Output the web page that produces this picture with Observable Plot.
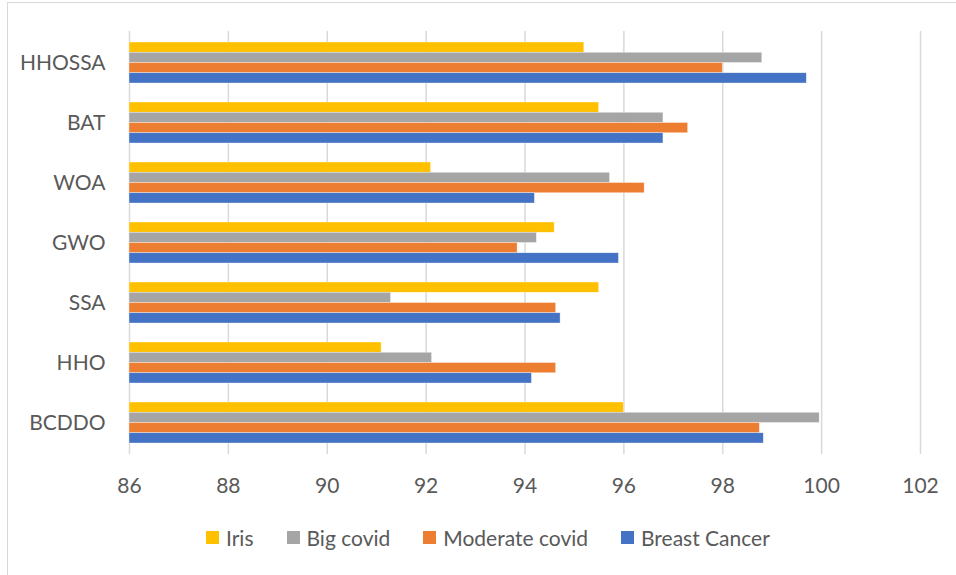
<!DOCTYPE html>
<html>
<head>
<meta charset="utf-8">
<script src="https://cdn.jsdelivr.net/npm/d3@7"></script>
<script src="https://cdn.jsdelivr.net/npm/@observablehq/plot@0.6"></script>
<style>
  html, body { margin: 0; padding: 0; background: #fff; overflow: hidden; }
  #wrap { position: relative; width: 956px; height: 575px; font-family: Lato, "Noto Sans", sans-serif; }
  #frame { position: absolute; left: 7px; top: 2px; width: 960px; height: 580px;
           border-left: 1.5px solid #d9d9d9; border-top: 1.5px solid #d9d9d9; box-sizing: border-box; }
  #chart { position: absolute; left: 0; top: 0; }
  #legend { position: absolute; left: 206px; top: 525px; display: flex; align-items: center;
            font-size: 21px; color: #595959; white-space: nowrap; }
  .item { display: flex; align-items: center; margin-right: 33px; }
  .sw { width: 13px; height: 13px; margin-right: 7px; }
</style>
</head>
<body>
<div id="wrap">
  <div id="frame"></div>
  <div id="chart"></div>
  <div id="legend"></div>
</div>
<script>
const categories = ["HHOSSA", "BAT", "WOA", "GWO", "SSA", "HHO", "BCDDO"];
const seriesNames = ["Iris", "Big covid", "Moderate covid", "Breast Cancer"];
const iris          = [95.2, 95.5, 92.1, 94.6, 95.5, 91.1, 96.0];
const bigCovid      = [98.8, 96.8, 95.72, 94.24, 91.29, 92.12, 99.96];
const moderateCovid = [98.0, 97.3, 96.42, 93.85, 94.63, 94.63, 98.75];
const breastCancer  = [99.7, 96.8, 94.2, 95.9, 94.72, 94.14, 98.83];
const xTicks = [86, 88, 90, 92, 94, 96, 98, 100, 102];
const seriesColors = ["#FFC000", "#A5A5A5", "#ED7D31", "#4472C4"];

const seriesValues = [iris, bigCovid, moderateCovid, breastCancer];
const tables = seriesValues.map((vals, si) =>
  categories.map((c, i) => ({category: c, series: seriesNames[si], value: vals[i]})));
const xMin = xTicks[0], xMax = xTicks[xTicks.length - 1];

function build(bw) {
  const q = bw / 4;
  return Plot.plot({
    width: 956,
    height: 505,
    marginLeft: 129,
    marginRight: 36,
    marginTop: 31,
    marginBottom: 51,
    style: {fontFamily: "Lato, 'Noto Sans', sans-serif", fontSize: "21px", color: "#595959", background: "transparent"},
    x: {domain: [xMin, xMax], ticks: xTicks, tickSize: 0, tickPadding: 24, label: null},
    y: {domain: categories, paddingInner: 0.31, paddingOuter: 0.157, tickSize: 0, tickPadding: 24, label: null},
    marks: [
      Plot.gridX(xTicks, {stroke: "#d9d9d9", strokeOpacity: 1, strokeWidth: 1.5}),
      ...tables.map((t, si) => Plot.barX(t, {
        y: "category",
        x1: () => xMin,
        x2: "value",
        fill: seriesColors[si],
        stroke: "white",
        strokeWidth: 0.6,
        strokeOpacity: 0.6,
        insetTop: si * q,
        insetBottom: (3 - si) * q
      }))
    ]
  });
}

const first = build(0);
const bw = first.scale("y").bandwidth;
const chart = build(bw);
document.getElementById("chart").append(chart);

const legend = document.getElementById("legend");
seriesNames.forEach((name, i) => {
  const item = document.createElement("div");
  item.className = "item";
  const sw = document.createElement("div");
  sw.className = "sw";
  sw.style.background = seriesColors[i];
  const label = document.createElement("span");
  label.textContent = name;
  item.append(sw, label);
  legend.append(item);
});
</script>
</body>
</html>
